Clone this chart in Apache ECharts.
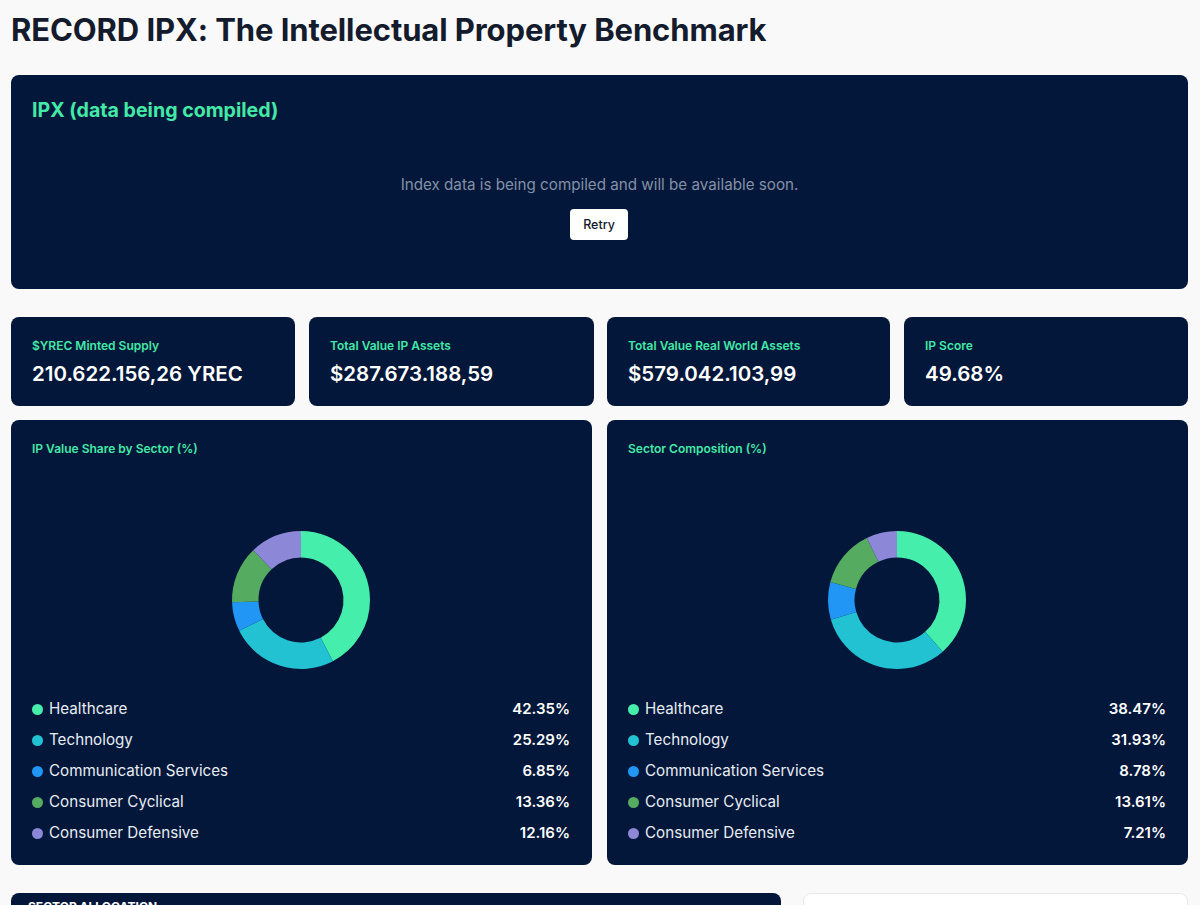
<!DOCTYPE html>
<html>
<head>
<meta charset="utf-8">
<script src="https://cdn.jsdelivr.net/npm/echarts@6/dist/echarts.min.js"></script>
<style>
  html,body{margin:0;padding:0;background:#f9f9f9;font-family:Inter,"Noto Sans",sans-serif;width:1200px;height:905px;overflow:hidden;position:relative;}
  .abs{position:absolute;}
  .panel{position:absolute;background:#03173a;border-radius:8px;box-sizing:border-box;}
  h1{position:absolute;left:11px;top:11px;margin:0;font-size:31px;font-weight:700;color:#141b2d;letter-spacing:-0.1px;}
  .ptitle{position:absolute;left:21px;top:23px;font-size:19.6px;font-weight:700;color:#43e9a6;}
  .msg{position:absolute;left:0;right:0;top:100px;text-align:center;font-size:15.2px;color:#8390a6;}
  .btn{position:absolute;left:559px;top:134px;width:58px;height:31px;background:#fff;border-radius:4px;font-size:12.5px;font-weight:500;color:#111827;text-align:center;line-height:31px;}
  .slabel{position:absolute;left:21px;top:21px;font-size:12px;font-weight:600;color:#43e9a6;}
  .sval{position:absolute;left:21px;top:44px;font-size:20.5px;font-weight:600;color:#fff;}
  .ctitle{position:absolute;left:21px;top:21px;font-size:12px;font-weight:600;color:#43e9a6;}
  .row{position:absolute;left:21px;right:22px;height:20px;font-size:15.2px;color:#e8ecf3;}
  .dot{position:absolute;left:0;top:5px;width:11px;height:11px;border-radius:50%;}
  .rname{position:absolute;left:17px;top:0;}
  .rval{position:absolute;right:0;top:0;font-weight:600;color:#fff;font-size:15px;}
</style>
</head>
<body>
<h1>RECORD IPX: The Intellectual Property Benchmark</h1>

<div class="panel" style="left:11px;top:75px;width:1177px;height:214px;">
  <div class="ptitle">IPX (data being compiled)</div>
  <div class="msg">Index data is being compiled and will be available soon.</div>
  <div class="btn">Retry</div>
</div>

<div id="stats"></div>

<div class="panel" id="p1" style="left:11px;top:420px;width:581px;height:445px;">
  <div class="ctitle">IP Value Share by Sector (%)</div>
  <div id="c1" class="abs" style="left:0;top:0;width:581px;height:270px;"></div>
  <div id="l1"></div>
</div>
<div class="panel" id="p2" style="left:607px;top:420px;width:581px;height:445px;">
  <div class="ctitle">Sector Composition (%)</div>
  <div id="c2" class="abs" style="left:0;top:0;width:581px;height:270px;"></div>
  <div id="l2"></div>
</div>

<div class="panel" style="left:11px;top:893px;width:770px;height:40px;">
  <div style="position:absolute;left:17px;top:6px;font-size:12px;font-weight:700;color:#fff;">SECTOR ALLOCATION</div>
</div>
<div class="abs" style="left:803px;top:893px;width:385px;height:40px;background:#fff;border:1px solid #e6e8eb;border-radius:8px;box-sizing:border-box;"></div>

<script>
// ---- data ----
const sectors = ["Healthcare","Technology","Communication Services","Consumer Cyclical","Consumer Defensive"];
const ipValueShare = [42.35, 25.29, 6.85, 13.36, 12.16];
const sectorComposition = [38.47, 31.93, 8.78, 13.61, 7.21];
const statLabels = ["$YREC Minted Supply","Total Value IP Assets","Total Value Real World Assets","IP Score"];
const statValues = ["210.622.156,26 YREC","$287.673.188,59","$579.042.103,99","49.68%"];
const sectorColors = ["#45eeaa","#22c2d2","#2196f5","#55ab5f","#8d87d8"];

// stats cards
const statLefts = [11,309,607,904];
const statWidths = [284,285,283,284];
let sh = "";
statLabels.forEach((l,i)=>{
  sh += `<div class="panel" style="left:${statLefts[i]}px;top:317px;width:${statWidths[i]}px;height:89px;">
    <div class="slabel">${l}</div><div class="sval">${statValues[i]}</div></div>`;
});
document.getElementById("stats").innerHTML = sh;

function legend(id, vals){
  let h = "";
  sectors.forEach((s,i)=>{
    h += `<div class="row" style="top:${279+i*31}px;"><span class="dot" style="background:${sectorColors[i]}"></span>
      <span class="rname">${s}</span><span class="rval">${vals[i].toFixed(2)}%</span></div>`;
  });
  document.getElementById(id).innerHTML = h;
}
legend("l1", ipValueShare);
legend("l2", sectorComposition);

function donut(id, vals){
  const ch = echarts.init(document.getElementById(id), null, {renderer:'canvas'});
  ch.setOption({
    animation:false,
    color: sectorColors,
    series:[{
      type:'pie',
      center:[290,180],
      radius:[42.5,69],
      startAngle:90,
      clockwise:true,
      label:{show:false},
      labelLine:{show:false},
      emphasis:{disabled:true},
      itemStyle:{borderWidth:0},
      data: sectors.map((s,i)=>({name:s,value:vals[i]}))
    }]
  });
}
donut("c1", ipValueShare);
donut("c2", sectorComposition);
</script>
</body>
</html>
